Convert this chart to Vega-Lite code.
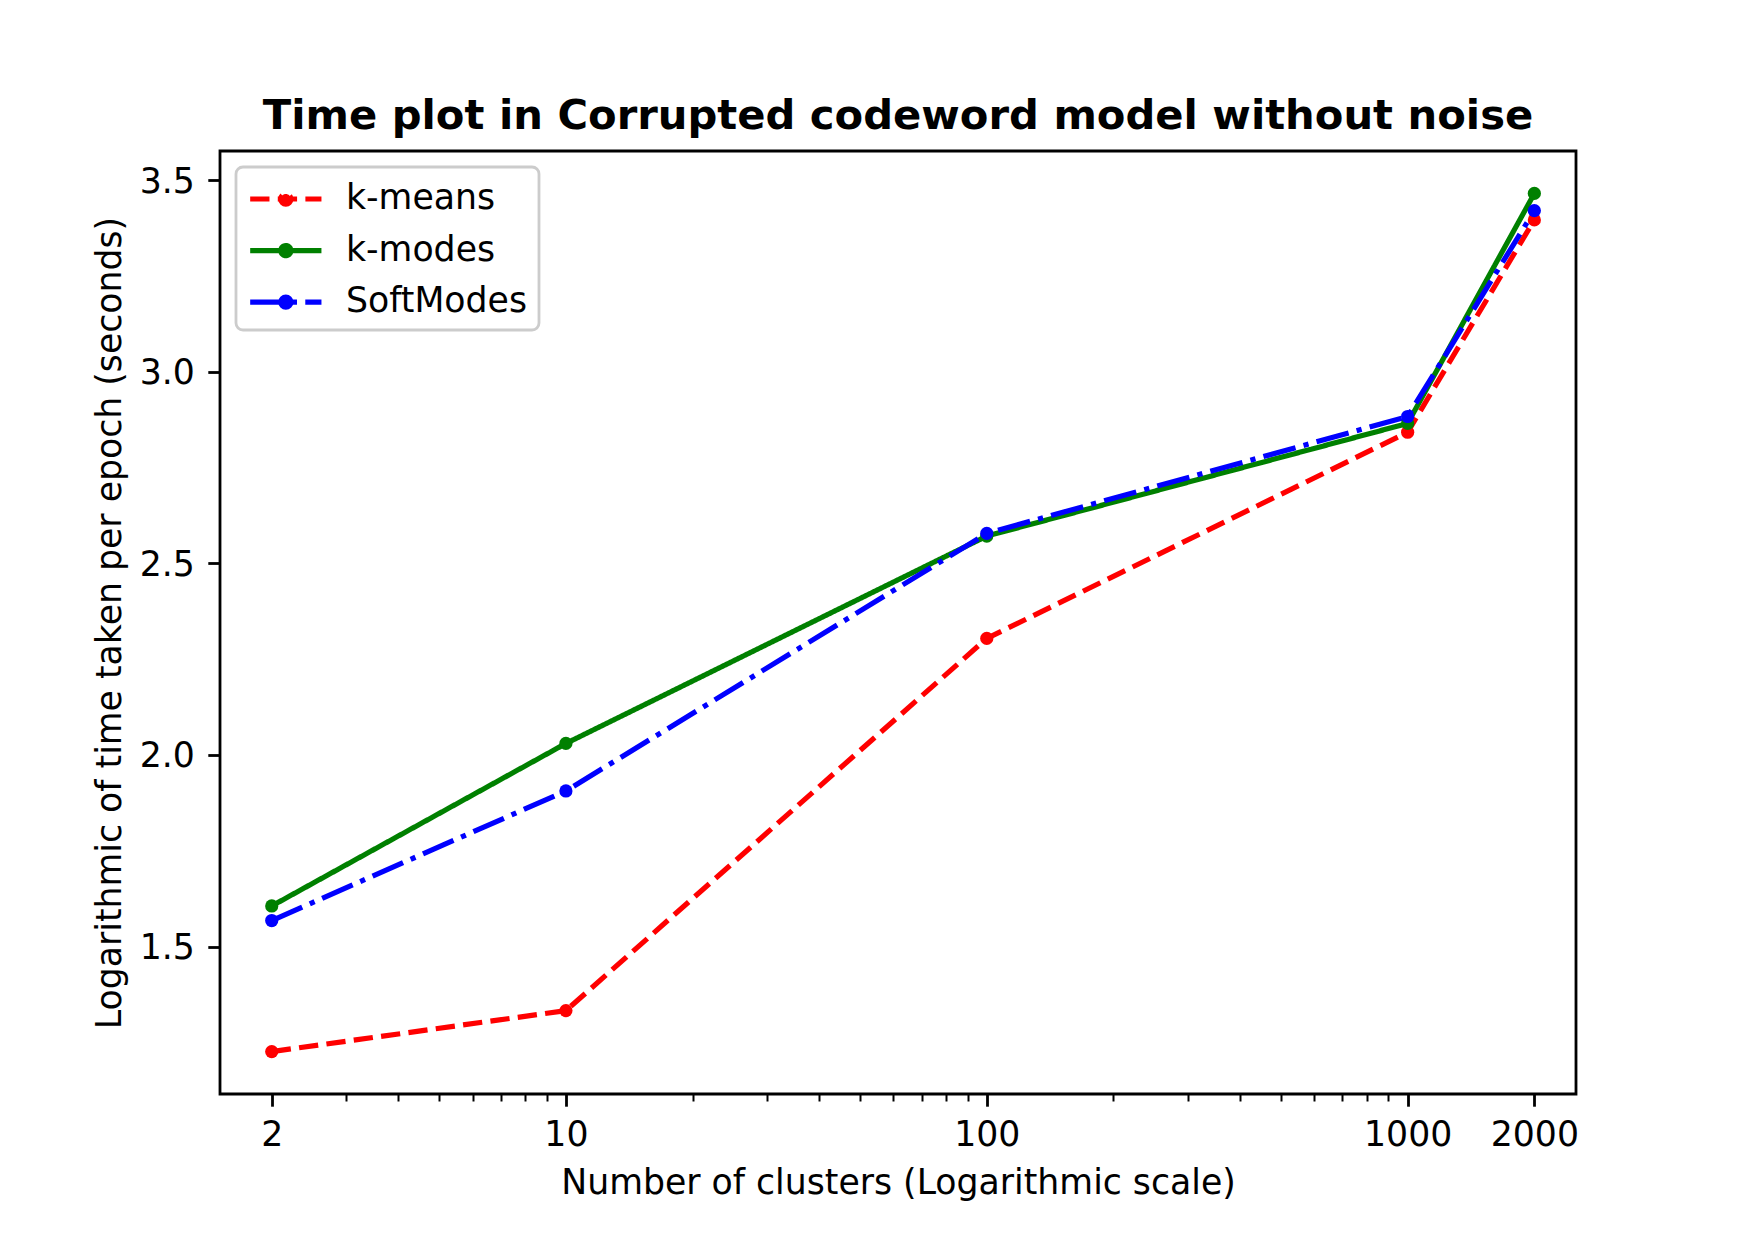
{
  "$schema": "https://vega.github.io/schema/vega-lite/v6.json",
  "width": 1356,
  "height": 943,
  "autosize": {"type": "none"},
  "padding": {"left": 220, "top": 151, "right": 174, "bottom": 156},
  "background": "white",
  "title": {
    "text": "Time plot in Corrupted codeword model without noise",
    "font": "DejaVu Sans",
    "fontSize": 41.7,
    "fontWeight": "bold",
    "color": "black",
    "anchor": "middle",
    "baseline": "alphabetic",
    "offset": -20
  },
  "config": {
    "font": "DejaVu Sans",
    "view": {"stroke": "black", "strokeWidth": 2.8},
    "axis": {
      "labelFont": "DejaVu Sans",
      "titleFont": "DejaVu Sans",
      "labelFontSize": 34.7,
      "titleFontSize": 34.7,
      "titleFontWeight": "normal",
      "labelColor": "black",
      "titleColor": "black",
      "tickColor": "black",
      "tickWidth": 2.8,
      "tickSize": 12.2,
      "domain": false,
      "grid": false,
      "labelOverlap": false,
      "labelFlush": false,
      "labelBound": false
    },
    "legend": {
      "orient": "none",
      "legendX": 16,
      "legendY": 16,
      "labelFont": "DejaVu Sans",
      "labelFontSize": 34.7,
      "labelColor": "black",
      "labelLimit": 0,
      "symbolType": "M-0.99,0H2.97M1.27,0A0.28,0.28,0,1,1,0.71,0A0.28,0.28,0,1,1,1.27,0Z",
      "symbolSize": 1296,
      "symbolStrokeWidth": 5.2,
      "padding": 11,
      "rowPadding": 13.6,
      "labelOffset": 57,
      "strokeColor": "#cccccc",
      "fillColor": "rgba(255,255,255,0.8)",
      "cornerRadius": 7
    }
  },
  "data": {
    "values": [
      {"method": "k-means", "clusters": 2, "time": 1.226},
      {"method": "k-means", "clusters": 10, "time": 1.333},
      {"method": "k-means", "clusters": 100, "time": 2.304},
      {"method": "k-means", "clusters": 1000, "time": 2.842},
      {"method": "k-means", "clusters": 2000, "time": 3.396},
      {"method": "k-modes", "clusters": 2, "time": 1.606},
      {"method": "k-modes", "clusters": 10, "time": 2.030},
      {"method": "k-modes", "clusters": 100, "time": 2.571},
      {"method": "k-modes", "clusters": 1000, "time": 2.865},
      {"method": "k-modes", "clusters": 2000, "time": 3.465},
      {"method": "SoftModes", "clusters": 2, "time": 1.568},
      {"method": "SoftModes", "clusters": 10, "time": 1.906},
      {"method": "SoftModes", "clusters": 100, "time": 2.578},
      {"method": "SoftModes", "clusters": 1000, "time": 2.883},
      {"method": "SoftModes", "clusters": 2000, "time": 3.420}
    ]
  },
  "layer": [
    {
      "mark": {"type": "line", "strokeWidth": 5.2, "point": {"filled": true, "size": 175}},
      "encoding": {
        "x": {
          "field": "clusters",
          "type": "quantitative",
          "scale": {"type": "log", "domain": [1.507, 2512], "nice": false},
          "axis": {
            "values": [2, 10, 100, 1000, 2000],
            "format": "d",
            "labelPadding": 12,
            "titlePadding": 14.5,
            "title": "Number of clusters (Logarithmic scale)"
          }
        },
        "y": {
          "field": "time",
          "type": "quantitative",
          "scale": {"domain": [1.1154, 3.5757], "nice": false, "zero": false},
          "axis": {
            "values": [1.5, 2.0, 2.5, 3.0, 3.5],
            "format": ".1f",
            "labelPadding": 13.5,
            "labelOffset": 2,
            "titlePadding": 12,
            "title": "Logarithmic of time taken per epoch (seconds)"
          }
        },
        "color": {
          "field": "method",
          "type": "nominal",
          "scale": {"domain": ["k-means", "k-modes", "SoftModes"], "range": ["#ff0000", "#008000", "#0000ff"]},
          "legend": {
            "title": null,
            "encode": {
              "symbols": {"update": {"fill": {"scale": "color", "field": "value"}, "fillOpacity": {"value": 1}}},
              "legend": {"update": {"strokeWidth": {"value": 2.8}}}
            }
          }
        },
        "strokeDash": {
          "field": "method",
          "type": "nominal",
          "scale": {"domain": ["k-means", "k-modes", "SoftModes"], "range": [[19.3, 8.3], [1, 0], [33.3, 8.3, 5.2, 8.3]]},
          "legend": {"title": null}
        }
      }
    },
    {
      "mark": {"type": "point", "opacity": 0},
      "encoding": {
        "x": {
          "field": "clusters",
          "type": "quantitative",
          "axis": {
            "orient": "bottom",
            "values": [3, 4, 5, 6, 7, 8, 9, 20, 30, 40, 50, 60, 70, 80, 90, 200, 300, 400, 500, 600, 700, 800, 900],
            "labels": false,
            "tickSize": 7,
            "tickWidth": 2,
            "title": null
          }
        },
        "y": {"field": "time", "type": "quantitative"}
      }
    }
  ],
  "resolve": {"axis": {"x": "independent"}}
}
